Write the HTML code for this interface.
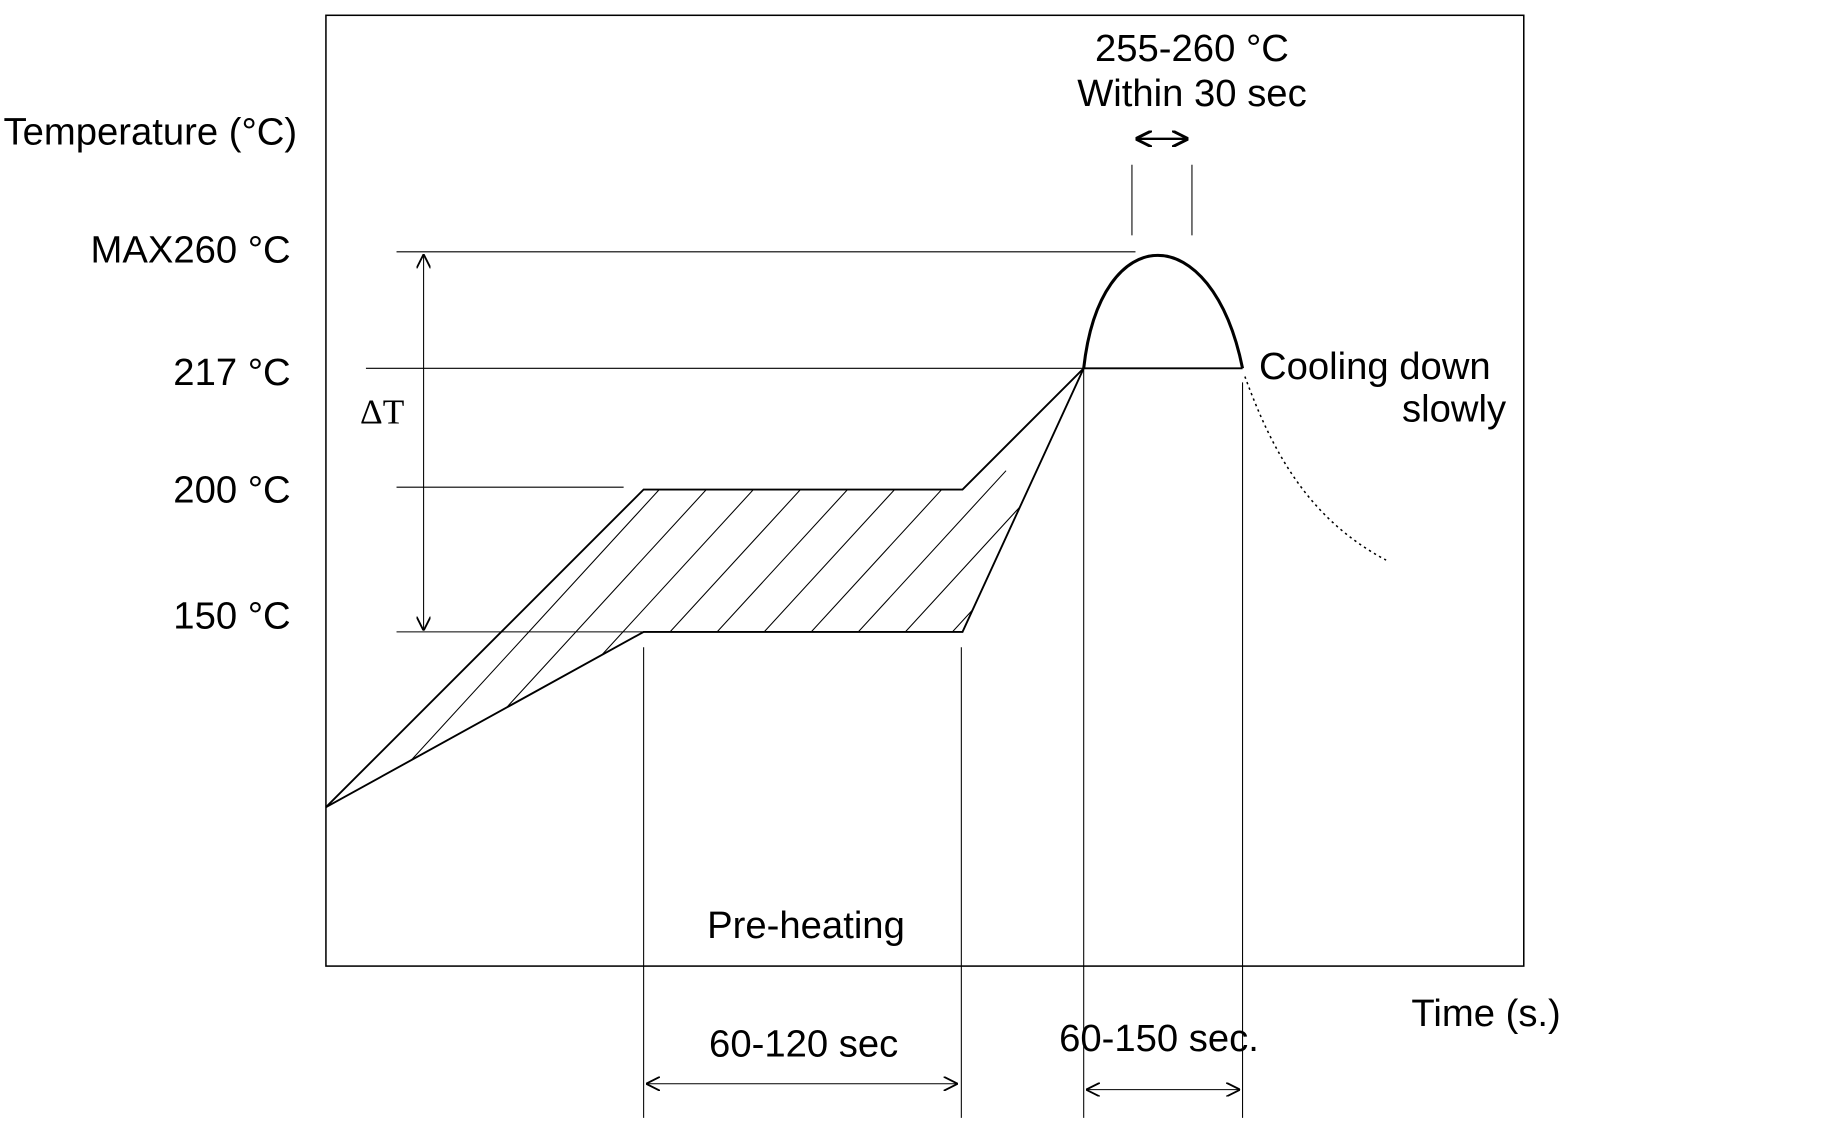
<!DOCTYPE html>
<html><head><meta charset="utf-8"><style>
html,body{margin:0;padding:0;background:#fff;}
svg{display:block;}
text{font-family:"Liberation Sans",sans-serif;font-size:32.5px;fill:#000;}
</style></head><body>
<svg width="1845" height="1132" viewBox="0 0 1568 962" preserveAspectRatio="none" xmlns="http://www.w3.org/2000/svg">
<defs>
<clipPath id="c"><polygon points="277,686 547,416 818,416 921,313 818,537 547,537"/></clipPath>
<marker id="a" viewBox="0 0 10 10" refX="10" refY="5" markerWidth="12" markerHeight="12" orient="auto-start-reverse" markerUnits="userSpaceOnUse"><path d="M0,0 L10,5 L0,10" fill="none" stroke="#000" stroke-width="1.3"/></marker>
<marker id="b" viewBox="0 0 10 10" refX="10" refY="5" markerWidth="14" markerHeight="14" orient="auto-start-reverse" markerUnits="userSpaceOnUse"><path d="M0,0 L10,5 L0,10" fill="none" stroke="#000" stroke-width="1.8"/></marker>
</defs>
<rect x="277" y="13" width="1018" height="808" fill="none" stroke="#000" stroke-width="1.3"/>
<g stroke="#000" stroke-width="0.9" fill="none">
<line x1="337" y1="214" x2="965" y2="214"/>
<line x1="311" y1="313" x2="921" y2="313"/>
<line x1="337" y1="414" x2="530" y2="414"/>
<line x1="337" y1="537" x2="547" y2="537"/>
<line x1="360" y1="216" x2="360" y2="536" marker-start="url(#a)" marker-end="url(#a)"/>
<line x1="962" y1="140" x2="962" y2="200"/>
<line x1="1013" y1="140" x2="1013" y2="200"/>
<line x1="547" y1="550" x2="547" y2="950"/>
<line x1="817" y1="550" x2="817" y2="950"/>
<line x1="921" y1="313" x2="921" y2="950"/>
<line x1="1056" y1="325" x2="1056" y2="950"/>
<line x1="549" y1="921" x2="814" y2="921" marker-start="url(#a)" marker-end="url(#a)"/>
<line x1="923" y1="926" x2="1054" y2="926" marker-start="url(#a)" marker-end="url(#a)"/>
<g clip-path="url(#c)">
<path d="M340,700 L615,400 M380,700 L655,400 M420,700 L695,400 M460,700 L735,400 M500,700 L775,400 M540,700 L815,400 M580,700 L855,400 M620,700 L895,400 M660,700 L935,400 M700,700 L975,400 M740,700 L1015,400 M780,700 L1055,400 M300,700 L575,400 M260,700 L535,400 M220,700 L495,400 M180,700 L455,400"/>
</g>
</g>
<line x1="965" y1="118" x2="1010" y2="118" stroke="#000" stroke-width="2" marker-start="url(#b)" marker-end="url(#b)"/>
<g stroke="#000" stroke-width="1.6" fill="none">
<polyline points="277,686 547,416 818,416 921,313"/>
<polyline points="277,686 547,537 818,537 921,313"/>
<line x1="921" y1="313" x2="1056" y2="313"/>
</g>
<path d="M921,313 C935,185 1030,185 1056,313" stroke="#000" stroke-width="2.6" fill="none"/>
<path d="M1058,320 C1080,380 1110,440 1178,476" stroke="#000" stroke-width="1.3" fill="none" stroke-dasharray="2,3"/>
<text x="3" y="123">Temperature (°C)</text>
<text x="247" y="223" text-anchor="end">MAX260 °C</text>
<text x="247" y="327" text-anchor="end">217 °C</text>
<text x="247" y="427" text-anchor="end">200 °C</text>
<text x="247" y="534" text-anchor="end">150 °C</text>
<text x="306" y="360" style="font-family:'Liberation Serif',serif;font-size:30px">ΔT</text>
<text x="1013" y="52" text-anchor="middle">255-260 °C</text>
<text x="1013" y="90" text-anchor="middle">Within 30 sec</text>
<text x="1070" y="322">Cooling down</text>
<text x="1280" y="358" text-anchor="end">slowly</text>
<text x="685" y="797" text-anchor="middle">Pre-heating</text>
<text x="683" y="898" text-anchor="middle">60-120 sec</text>
<text x="985" y="893" text-anchor="middle">60-150 sec.</text>
<text x="1263" y="872" text-anchor="middle">Time (s.)</text>
</svg>
</body></html>
